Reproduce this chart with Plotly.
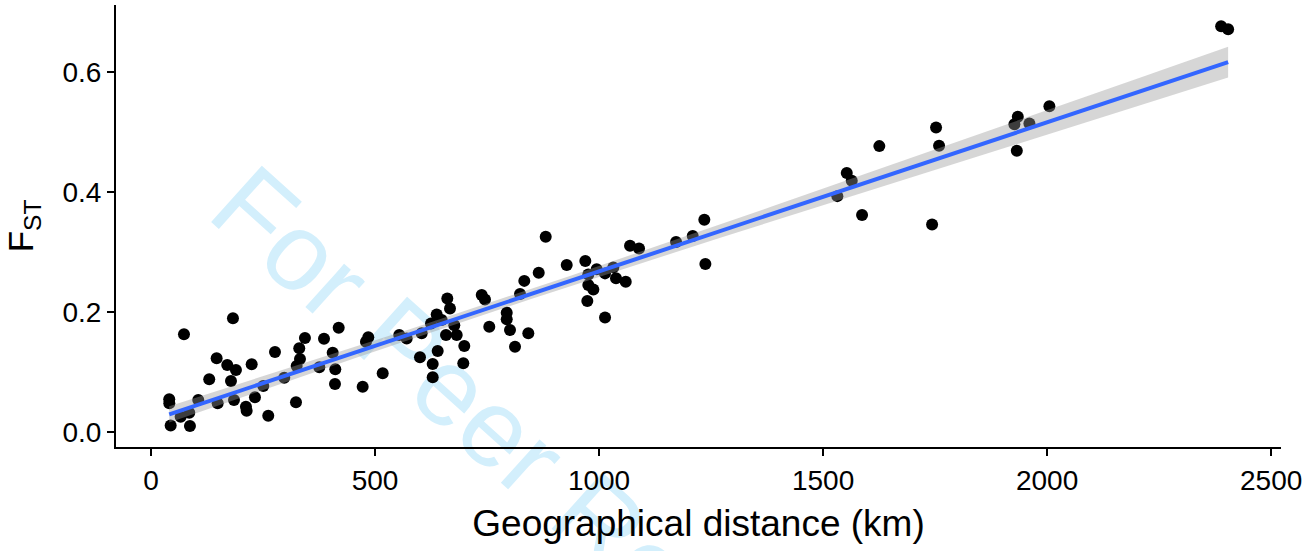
import numpy as np
import plotly.graph_objects as go

# Geographical distance (km) and pairwise FST
distance_km = [
    40.8, 41.0, 44.0, 66.3, 87.0, 73.7, 85.5, 105.6, 130.1, 146.6,
    148.9, 183.0, 170.3, 189.7, 178.6, 185.3, 212.0, 213.6, 224.8, 232.1,
    250.7, 261.8, 276.8, 297.5, 323.7, 331.0, 332.6, 325.2, 343.7, 386.2,
    375.7, 405.6, 419.0, 411.4, 410.7, 472.5, 485.0, 479.9, 517.2, 554.2,
    570.7, 600.4, 604.2, 628.8, 628.8, 639.9, 625.0, 637.7, 648.9, 661.4,
    667.4, 658.5, 677.0, 682.4, 699.3, 697.1, 738.2, 745.5, 755.1, 794.0,
    794.0, 801.3, 812.5, 823.7, 842.2, 833.2, 865.4, 881.0, 927.9, 969.4,
    976.1, 994.8, 1013.4, 1031.9, 1037.9, 1059.6, 976.1, 987.3, 973.9, 1013.4,
    1069.2, 1089.3, 1171.9, 1209.1, 1237.3, 1235.0, 1531.9, 1552.9, 1564.0, 1587.0,
    1625.6, 1752.2, 1758.9, 1743.3, 1934.6, 1927.0, 1960.5, 1932.4, 2005.1, 2388.4,
    2404.0,
]
fst = [
    0.0545, 0.048, 0.011, 0.0255, 0.010, 0.163, 0.032, 0.0533, 0.0878, 0.123,
    0.048, 0.1895, 0.1117, 0.1033, 0.085, 0.0533, 0.042, 0.0355, 0.113, 0.058,
    0.0767, 0.027, 0.1333, 0.0905, 0.0495, 0.1395, 0.1217, 0.110, 0.1567, 0.1555,
    0.1078, 0.132, 0.174, 0.1045, 0.080, 0.0755, 0.158, 0.1505, 0.098, 0.1617,
    0.156, 0.1245, 0.1645, 0.1133, 0.0912, 0.135, 0.181, 0.196, 0.1867, 0.2228,
    0.206, 0.1617, 0.178, 0.1617, 0.1433, 0.1145, 0.2283, 0.221, 0.1755, 0.199,
    0.188, 0.170, 0.142, 0.230, 0.1645, 0.252, 0.2655, 0.3255, 0.2783, 0.285,
    0.2628, 0.2712, 0.2645, 0.2745, 0.2562, 0.2505, 0.245, 0.2378, 0.2183, 0.191,
    0.3105, 0.306, 0.317, 0.327, 0.280, 0.354, 0.3933, 0.432, 0.419, 0.3617,
    0.4767, 0.5078, 0.4772, 0.346, 0.5255, 0.5133, 0.5145, 0.4688, 0.5433, 0.6767,
    0.6717,
]
x_ticks = [0, 500, 1000, 1500, 2000, 2500]
y_ticks = [0.0, 0.2, 0.4, 0.6]

# Linear model fit with 95% confidence band (as geom_smooth(method="lm"))
x = np.array(distance_km)
y = np.array(fst)
n = len(x)
b1, b0 = np.polyfit(x, y, 1)
resid = y - (b0 + b1 * x)
s = np.sqrt(np.sum(resid ** 2) / (n - 2))
sxx = np.sum((x - x.mean()) ** 2)
t_crit = 1.984
xs = np.linspace(x.min(), x.max(), 80)
ys = b0 + b1 * xs
se = s * np.sqrt(1.0 / n + (xs - x.mean()) ** 2 / sxx)
lo = ys - t_crit * se
hi = ys + t_crit * se

FONT = "Liberation Sans, Arial, Helvetica, sans-serif"

fig = go.Figure()
fig.add_trace(go.Scatter(
    x=distance_km, y=fst, mode="markers",
    marker=dict(color="black", size=12, line=dict(width=0)),
    showlegend=False, hoverinfo="x+y",
))
fig.add_trace(go.Scatter(
    x=np.concatenate([xs, xs[::-1]]), y=np.concatenate([hi, lo[::-1]]),
    fill="toself", fillcolor="rgba(153,153,153,0.4)", line=dict(width=0),
    mode="lines", showlegend=False, hoverinfo="skip",
))
fig.add_trace(go.Scatter(
    x=xs, y=ys, mode="lines", line=dict(color="#3366FF", width=4),
    showlegend=False, hoverinfo="skip",
))

# watermark
fig.add_shape(
    type="line", xref="paper", yref="paper",
    x0=0.355, y0=-0.016, x1=0.375, y1=-0.016,
    line=dict(color="rgba(0,0,0,0)", width=0), layer="below",
    label=dict(text="For Peer Review", textangle=42, textposition="middle",
               xanchor="center", yanchor="middle",
               font=dict(size=110, color="#d3effc", family=FONT)),
)

fig.update_layout(
    width=1308, height=551,
    margin=dict(l=116, r=27, t=5, b=104),
    paper_bgcolor="white", plot_bgcolor="white",
    font=dict(family=FONT, color="black"),
    xaxis=dict(
        range=[-78, 2522], tickvals=x_ticks, showgrid=False, zeroline=False,
        showline=True, linecolor="black", linewidth=2,
        ticks="outside", ticklen=7, tickwidth=2, tickcolor="black",
        tickfont=dict(size=28, color="black"),
        title=dict(text="Geographical distance (km)", font=dict(size=37, color="black"), standoff=16),
    ),
    yaxis=dict(
        range=[-0.025, 0.712], tickvals=y_ticks, tickformat=".1f",
        showgrid=False, zeroline=False,
        showline=True, linecolor="black", linewidth=2,
        ticks="outside", ticklen=7, tickwidth=2, tickcolor="black",
        tickfont=dict(size=28, color="black"),
        title=dict(text="F<sub>ST</sub>", font=dict(size=35, color="black"), standoff=18),
    ),
)

fig.write_html("out.html")
